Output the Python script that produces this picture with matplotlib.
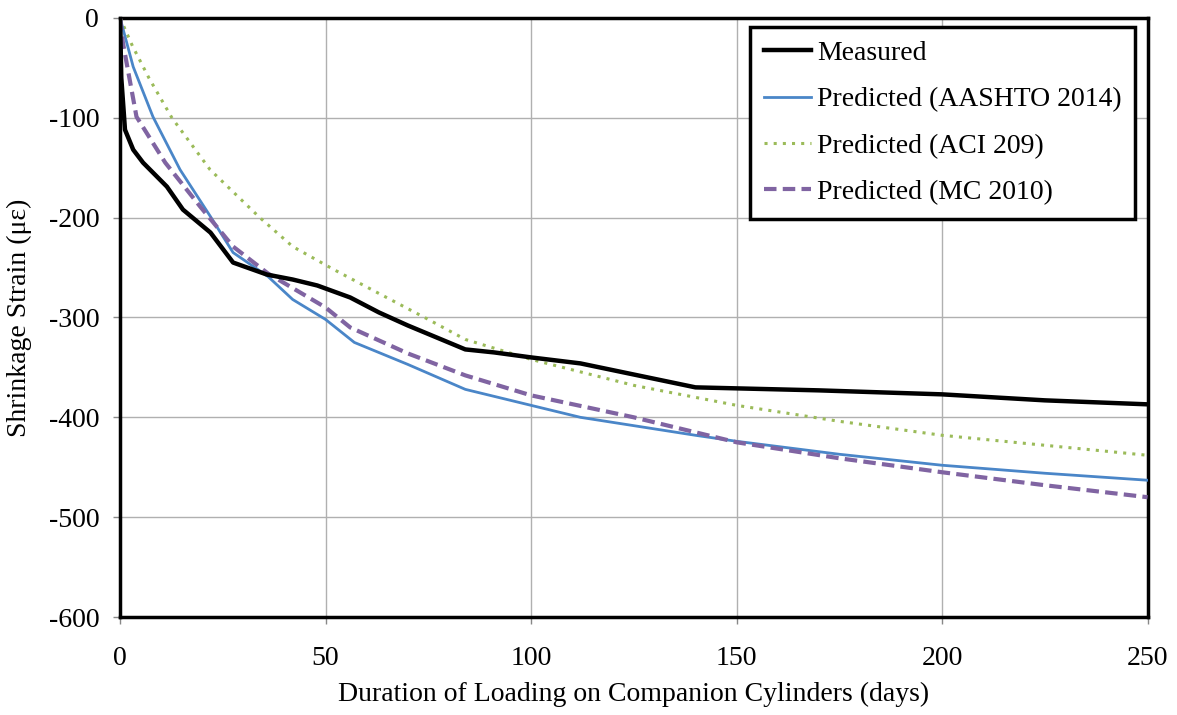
import matplotlib.pyplot as plt

# Measured shrinkage
meas_days = [0, 0.3, 1.2, 3.2, 5.6, 11.4, 15.3, 22, 27.5, 35.7, 42, 48, 56, 63, 70, 77, 84, 91, 100, 112, 126, 140, 170, 200, 225, 250]
meas_vals = [0, -60, -112, -132, -145, -169, -192, -215, -245, -257, -262, -268, -280, -295, -308, -320, -332, -335, -340, -346, -358, -370, -373, -377, -383, -387]

# AASHTO 2014
aashto_days = [0, 3.2, 8, 14.6, 22, 27.5, 36, 42, 50, 57, 70, 84, 100, 112, 140, 150, 175, 200, 225, 250]
aashto_vals = [0, -49, -99, -152, -199, -235, -259, -282, -302, -325, -347, -372, -388, -400, -418, -424, -437, -448, -456, -463]

# ACI 209
aci_days = [0, 3, 7, 12.6, 21.9, 34, 42, 52, 63, 75, 84, 100, 125, 150, 175, 200, 225, 250]
aci_vals = [0, -28, -60, -100, -152, -200, -229, -252, -276, -302, -322, -342, -368, -388, -404, -418, -428, -438]

# MC 2010
mc_days = [0, 0.7, 4, 11, 19.5, 27.5, 36, 50, 56, 70, 84, 100, 125, 150, 175, 200, 225, 250]
mc_vals = [0, -25, -99, -145, -189, -229, -256, -290, -310, -336, -358, -378, -400, -425, -441, -455, -468, -480]

plt.rcParams['font.family'] = ['Liberation Serif', 'DejaVu Serif']
plt.rcParams['axes.unicode_minus'] = False

fig = plt.figure(figsize=(11.77, 7.15), dpi=100)
ax = fig.add_axes([0.102, 0.137, 0.873, 0.838])

ax.plot(meas_days, meas_vals, color='black', lw=3.2, label='Measured', zorder=5)
ax.plot(aashto_days, aashto_vals, color='#4a86c8', lw=2.0, label='Predicted (AASHTO 2014)', zorder=4)
ax.plot(aci_days, aci_vals, color='#9bbb59', lw=2.2, linestyle=(0, (1, 2)), label='Predicted (ACI 209)', zorder=3)
ax.plot(mc_days, mc_vals, color='#8064a2', lw=3.0, linestyle=(0, (3, 1.5)), label='Predicted (MC 2010)', zorder=4)

ax.set_xlim(0, 250)
ax.set_ylim(-600, 0)
ax.set_xticks([0, 50, 100, 150, 200, 250])
ax.set_yticks([0, -100, -200, -300, -400, -500, -600])
ax.grid(True, color='#b0b0b0', lw=1.0)
ax.set_axisbelow(True)
for s in ax.spines.values():
    s.set_linewidth(2.5)
ax.tick_params(labelsize=20, direction='out', length=5, width=1, color='#888888', pad=10)
ax.tick_params(axis='x', pad=16)

ax.set_xlabel('Duration of Loading on Companion Cylinders (days)', fontsize=20, labelpad=8)
ax.set_ylabel('Shrinkage Strain (\u03bc\u03b5)', fontsize=20, labelpad=12)

leg = ax.legend(loc='upper right', fontsize=20, frameon=True, fancybox=False,
                edgecolor='black', framealpha=1, handlelength=1.7, handletextpad=0.2,
                borderpad=0.5, labelspacing=0.75, bbox_to_anchor=(0.988, 0.985),
                borderaxespad=0)
leg.get_frame().set_linewidth(2.5)

fig.savefig('out.png', dpi=100)
